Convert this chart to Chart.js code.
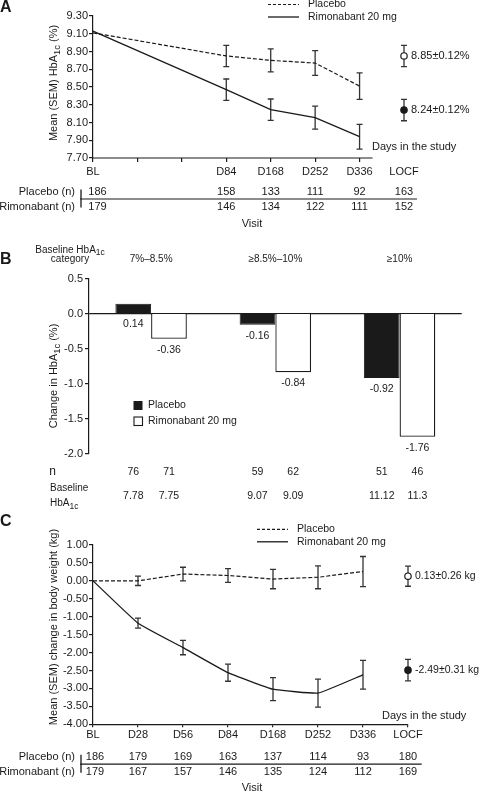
<!DOCTYPE html>
<html>
<head>
<meta charset="utf-8">
<script src="https://cdn.jsdelivr.net/npm/chart.js@4"></script>
<style>
    body { margin: 0; background: #fff; }
    #wrap { position: relative; width: 480px; height: 792px; }
    canvas { position: absolute; left: 0; }
</style>
</head>
<body>
<div id="wrap">
    <canvas id="chartA" width="480" height="232" style="top:0"></canvas>
    <canvas id="chartB" width="480" height="280" style="top:232px"></canvas>
    <canvas id="chartC" width="480" height="280" style="top:512px"></canvas>
</div>
<script>
// Panel A - HbA1c over time
const visitsA = ['BL', '', '', 'D84', 'D168', 'D252', 'D336', 'LOCF'];
const placeboA = [9.11, null, null, 8.85, 8.80, 8.77, 8.51, null];
const placeboSemA = [0, null, null, 0.12, 0.13, 0.14, 0.15, null];
const rimoA = [9.13, null, null, 8.47, 8.245, 8.155, 7.94, null];
const rimoSemA = [0, null, null, 0.12, 0.12, 0.13, 0.14, null];
const locfA = [8.85, 8.24];
const locfSemA = [0.12, 0.12];
const locfTextA = ['8.85±0.12%', '8.24±0.12%'];
const nPlaceboA = [186, null, null, 158, 133, 111, 92, 163];
const nRimoA = [179, null, null, 146, 134, 122, 111, 152];

// Panel B - change by baseline category
const groupsB = ['7%–8.5%', '≥8.5%–10%', '≥10%'];
const placeboB = [0.14, -0.16, -0.92];
const rimoB = [-0.36, -0.84, -1.76];
const nPlaceboB = [76, 59, 51];
const nRimoB = [71, 62, 46];
const basePlaceboB = ['7.78', '9.07', '11.12'];
const baseRimoB = ['7.75', '9.09', '11.3'];

// Panel C - body weight change
const visitsC = ['BL', 'D28', 'D56', 'D84', 'D168', 'D252', 'D336', 'LOCF'];
const placeboC = [0, 0.00, 0.19, 0.15, 0.05, 0.10, 0.26, null];
const placeboSemC = [0, 0.13, 0.19, 0.19, 0.27, 0.32, 0.42, null];
const rimoC = [0, -1.18, -1.86, -2.56, -3.02, -3.13, -2.62, null];
const rimoSemC = [0, 0.14, 0.20, 0.24, 0.32, 0.39, 0.40, null];
const locfC = [0.13, -2.49];
const locfSemC = [0.28, 0.30];
const locfTextC = ['0.13±0.26 kg', '-2.49±0.31 kg'];
const nPlaceboC = [186, 179, 169, 163, 137, 114, 93, 180];
const nRimoC = [179, 167, 157, 146, 135, 124, 112, 169];

const FONT = "'Liberation Sans', Arial, Helvetica, sans-serif";
const INK = '#1a1a1a';
const NONE = 'rgba(0,0,0,0)';
Chart.defaults.font.family = FONT;
Chart.defaults.color = INK;

function put(ctx, s, x, y, size, align, weight) {
    ctx.save();
    ctx.font = (weight || '') + ' ' + size + 'px ' + FONT;
    ctx.fillStyle = INK;
    ctx.textAlign = align || 'center';
    ctx.textBaseline = 'middle';
    ctx.fillText(s, x, y);
    ctx.restore();
}

// text with subscript runs: parts = [[text, isSub], ...]
function rich(ctx, parts, x, y, size, align, angle) {
    ctx.save();
    ctx.translate(x, y);
    if (angle) ctx.rotate(angle);
    ctx.fillStyle = INK;
    ctx.textAlign = 'left';
    ctx.textBaseline = 'alphabetic';
    const sizes = parts.map(p => p[1] ? size * 0.85 : size);
    const widths = parts.map((p, i) => {
        ctx.font = sizes[i] + 'px ' + FONT;
        return ctx.measureText(p[0]).width;
    });
    const total = widths.reduce((a, b) => a + b, 0);
    let cx = align === 'center' ? -total / 2 : align === 'right' ? -total : 0;
    parts.forEach((p, i) => {
        ctx.font = sizes[i] + 'px ' + FONT;
        ctx.fillText(p[0], cx, size * 0.36 + (p[1] ? size * 0.28 : 0));
        cx += widths[i];
    });
    ctx.restore();
}

function seg(ctx, x1, y1, x2, y2, w, dash) {
    ctx.save();
    ctx.strokeStyle = INK;
    ctx.lineWidth = w || 1;
    ctx.setLineDash(dash || []);
    ctx.beginPath();
    ctx.moveTo(x1, y1);
    ctx.lineTo(x2, y2);
    ctx.stroke();
    ctx.restore();
}

function lineLegend(ctx, x, y) {
    seg(ctx, x, y, x + 31, y, 1.2, [3, 2]);
    put(ctx, 'Placebo', x + 40, y, 10.5, 'left');
    seg(ctx, x, y + 12.5, x + 31, y + 12.5, 1.3);
    put(ctx, 'Rimonabant 20 mg', x + 40, y + 12.5, 10.5, 'left');
}

function visitTable(chart, nPlac, nRimo, yTop, yBot, lineRight, blShift, visitY) {
    const ctx = chart.ctx;
    const x = chart.scales.x;
    const mid = (yTop + yBot) / 2;
    put(ctx, 'Placebo (n)', 75, yTop, 11, 'right');
    put(ctx, 'Rimonabant (n)', 75, yBot, 11, 'right');
    seg(ctx, 80, mid, lineRight, mid, 1.2);
    seg(ctx, 81, yTop - 2, 81, yBot + 1, 1.3);
    [[nPlac, yTop], [nRimo, yBot]].forEach(([row, y]) => {
        row.forEach((n, i) => {
            if (n == null) return;
            const px = x.getPixelForValue(i) + (i === 0 ? blShift : 0);
            put(ctx, String(n), px, y, 11);
        });
    });
    put(ctx, 'Visit', 252, visitY, 11);
}

function locfLabels(chart, values, texts, size) {
    const x = chart.scales.x, y = chart.scales.y;
    const px = x.getPixelForValue(x.max) + 7;
    values.forEach((v, i) => put(chart.ctx, texts[i], px, y.getPixelForValue(v), size, 'left'));
}

// vertical SEM bars drawn through the chart's scales
const errorBars = {
    id: 'errorBars',
    beforeDatasetsDraw(chart) {
        const ctx = chart.ctx;
        const x = chart.scales.x, y = chart.scales.y;
        chart.data.datasets.forEach(ds => {
            if (!ds.errors) return;
            ds.data.forEach((v, i) => {
                const e = ds.errors[i];
                if (v == null || !e) return;
                const px = x.getPixelForValue(i);
                const top = y.getPixelForValue(v + e), bot = y.getPixelForValue(v - e);
                ctx.save();
                ctx.strokeStyle = '#333';
                ctx.lineWidth = 1.3;
                ctx.beginPath();
                ctx.moveTo(px, top); ctx.lineTo(px, bot);
                ctx.moveTo(px - 3, top); ctx.lineTo(px + 3, top);
                ctx.moveTo(px - 3, bot); ctx.lineTo(px + 3, bot);
                ctx.stroke();
                ctx.restore();
            });
        });
    }
};

function locfSeries(labels, value, sem, open) {
    const last = labels.length - 1;
    return {
        data: labels.map((_, i) => i === last ? value : null),
        errors: labels.map((_, i) => i === last ? sem : null),
        showLine: false,
        pointRadius: 3.2,
        pointBorderWidth: 1.2,
        pointBorderColor: INK,
        pointBackgroundColor: open ? '#fff' : INK,
        clip: false
    };
}

function timeOptions(cfg) {
    return {
        responsive: false,
        animation: false,
        events: [],
        layout: { padding: { left: 0, top: cfg.top, right: cfg.right, bottom: 0 } },
        plugins: { legend: { display: false }, tooltip: { enabled: false } },
        scales: {
            x: {
                border: { display: cfg.xBorder, color: INK, width: 1.2 },
                grid: { drawOnChartArea: false, tickLength: cfg.xTick, color: INK, lineWidth: 1.2, tickColor: cfg.tickColor || INK },
                ticks: { font: { size: 11 }, padding: cfg.xPad, maxRotation: 0, autoSkip: false, color: INK },
                afterFit: s => { s.height = cfg.xHeight; }
            },
            y: {
                min: cfg.min, max: cfg.max,
                border: { color: INK, width: 1.2 },
                grid: { drawOnChartArea: false, tickLength: 4, color: INK, lineWidth: 1.2 },
                ticks: { stepSize: cfg.step, callback: v => v.toFixed(2), font: { size: 11 }, padding: 1, color: INK },
                afterFit: s => { s.width = 93; }
            }
        }
    };
}

// ---------- Panel A ----------
new Chart(document.getElementById('chartA'), {
    type: 'line',
    data: {
        labels: visitsA,
        datasets: [
            { data: placeboA, errors: placeboSemA, borderColor: INK, borderWidth: 1.2, borderDash: [4, 2], pointRadius: 0, spanGaps: true, clip: false },
            { data: rimoA, errors: rimoSemA, borderColor: INK, borderWidth: 1.3, pointRadius: 0, spanGaps: true, clip: false },
            locfSeries(visitsA, locfA[0], locfSemA[0], true),
            locfSeries(visitsA, locfA[1], locfSemA[1], false)
        ]
    },
    options: timeOptions({
        top: 16, right: 76, min: 7.7, max: 9.3, step: 0.2,
        xBorder: false, xTick: 4, xPad: 3, xHeight: 232 - 158,
        tickColor: c => c.index === visitsA.length - 1 ? NONE : INK
    }),
    plugins: [errorBars, {
        id: 'panelA',
        afterDraw(chart) {
            const ctx = chart.ctx, x = chart.scales.x, area = chart.chartArea;
            // x axis stops just past D336
            seg(ctx, area.left, area.bottom, x.getPixelForValue(6) + 13, area.bottom, 1.2);
            put(ctx, 'A', 0, 7.5, 16, 'left', 'bold');
            lineLegend(ctx, 268, 4.5);
            rich(ctx, [['Mean (SEM) HbA'], ['1c', 1], [' (%)']], 53, 83, 11, 'center', -Math.PI / 2);
            put(ctx, 'Days in the study', 372, 147, 11, 'left');
            locfLabels(chart, locfA, locfTextA, 11);
            visitTable(chart, nPlaceboA, nRimoA, 191.5, 206.5, 417, 4.5, 224);
        }
    }]
});

// ---------- Panel B ----------
new Chart(document.getElementById('chartB'), {
    type: 'bar',
    data: {
        labels: groupsB,
        datasets: [
            { data: placeboB, backgroundColor: INK, borderColor: INK, borderWidth: 1, categoryPercentage: 0.575, barPercentage: 1 },
            { data: rimoB, backgroundColor: '#fff', borderColor: INK, borderWidth: 1.3, categoryPercentage: 0.575, barPercentage: 1 }
        ]
    },
    options: {
        responsive: false,
        animation: false,
        events: [],
        layout: { padding: { left: 0, top: 46.5, right: 18.3, bottom: 58.5 } },
        plugins: { legend: { display: false }, tooltip: { enabled: false } },
        scales: {
            x: { display: false },
            y: {
                min: -2, max: 0.5,
                border: { color: INK, width: 1.2 },
                grid: {
                    color: c => c.tick && c.tick.value === 0 ? INK : NONE,
                    tickColor: INK, tickLength: 4, lineWidth: 1.2
                },
                ticks: { stepSize: 0.5, callback: v => v.toFixed(1), font: { size: 11 }, padding: 2, color: INK },
                afterFit: s => { s.width = 89; }
            }
        }
    },
    plugins: [{
        id: 'panelB',
        afterDraw(chart) {
            const ctx = chart.ctx, x = chart.scales.x, y = chart.scales.y;
            put(ctx, 'B', 0, 28, 16, 'left', 'bold');
            rich(ctx, [['Baseline HbA'], ['1c', 1]], 70, 17, 10, 'center');
            put(ctx, 'category', 70, 27, 10);
            groupsB.forEach((g, i) => put(ctx, g, x.getPixelForValue(i), 27, 10));
            rich(ctx, [['Change in HbA'], ['1c', 1], [' (%)']], 53, 144, 11, 'center', -Math.PI / 2);

            const series = [[placeboB, nPlaceboB, basePlaceboB], [rimoB, nRimoB, baseRimoB]];
            series.forEach(([vals, ns, bases], d) => {
                const meta = chart.getDatasetMeta(d);
                vals.forEach((v, i) => {
                    const bx = meta.data[i].x;
                    put(ctx, v.toFixed(2), bx, y.getPixelForValue(Math.min(v, 0)) + 11, 10.5);
                    put(ctx, String(ns[i]), bx, 239.7, 10.5);
                    put(ctx, bases[i], bx, 263.7, 10.5);
                });
            });

            // legend
            ctx.save();
            ctx.fillStyle = INK;
            ctx.fillRect(133.5, 169, 9, 9);
            ctx.fillStyle = '#fff';
            ctx.strokeStyle = INK;
            ctx.lineWidth = 1.1;
            ctx.fillRect(134, 185, 8.5, 8.5);
            ctx.strokeRect(134, 185, 8.5, 8.5);
            ctx.restore();
            put(ctx, 'Placebo', 148, 173.5, 10.5, 'left');
            put(ctx, 'Rimonabant 20 mg', 148, 189.5, 10.5, 'left');

            put(ctx, 'n', 52.5, 239.7, 12);
            put(ctx, 'Baseline', 50, 256.3, 10, 'left');
            rich(ctx, [['HbA'], ['1c', 1]], 50, 270.5, 10, 'left');
        }
    }]
});

// ---------- Panel C ----------
new Chart(document.getElementById('chartC'), {
    type: 'line',
    data: {
        labels: visitsC,
        datasets: [
            { data: placeboC, errors: placeboSemC, borderColor: INK, borderWidth: 1.2, borderDash: [4, 2], pointRadius: 0, clip: false },
            { data: rimoC, errors: rimoSemC, borderColor: INK, borderWidth: 1.3, pointRadius: 0, tension: 0.1, clip: false },
            locfSeries(visitsC, locfC[0], locfSemC[0], true),
            locfSeries(visitsC, locfC[1], locfSemC[1], false)
        ]
    },
    options: timeOptions({
        top: 33, right: 72, min: -4, max: 1, step: 0.5,
        xBorder: true, xTick: 3, xPad: 1, xHeight: 280 - 212.3
    }),
    plugins: [errorBars, {
        id: 'panelC',
        afterDraw(chart) {
            const ctx = chart.ctx;
            put(ctx, 'C', 0, 10, 16, 'left', 'bold');
            lineLegend(ctx, 257, 17.3);
            rich(ctx, [['Mean (SEM) change in body weight (kg)']], 53, 115, 11, 'center', -Math.PI / 2);
            put(ctx, 'Days in the study', 382, 204, 11, 'left');
            locfLabels(chart, locfC, locfTextC, 10.5);
            visitTable(chart, nPlaceboC, nRimoC, 244.7, 259.7, 421.7, 2, 275.5);
        }
    }]
});
</script>
</body>
</html>
